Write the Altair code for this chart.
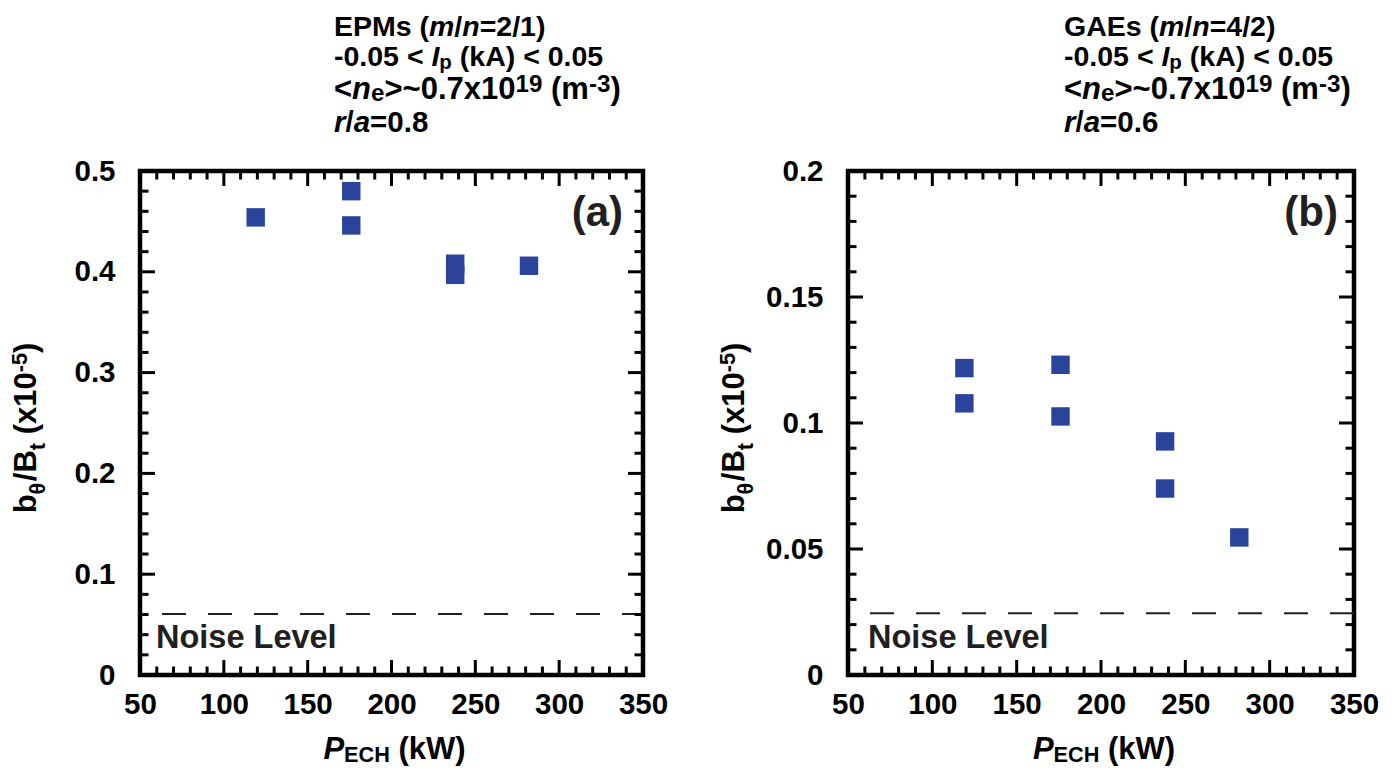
import altair as alt
import pandas as pd

# ---------------- data ----------------
P_ECH_A = [119, 176, 176, 238, 238, 282]
B_RATIO_A = [0.454, 0.480, 0.446, 0.408, 0.397, 0.406]
P_ECH_B = [119, 119, 176, 176, 238, 238, 282]
B_RATIO_B = [0.1218, 0.1078, 0.1231, 0.1026, 0.0927, 0.0740, 0.0546]
NOISE_A = 0.0605
NOISE_B = 0.0245

X_DOMAIN = [50, 350]
Y_DOMAIN_A = [0, 0.5]
Y_DOMAIN_B = [0, 0.2]
X_MAJOR = [50, 100, 150, 200, 250, 300, 350]
X_MINOR = [60, 70, 80, 90, 110, 120, 130, 140, 160, 170, 180, 190,
           210, 220, 230, 240, 260, 270, 280, 290, 310, 320, 330, 340]
Y_MAJOR_A = [0, 0.1, 0.2, 0.3, 0.4, 0.5]
Y_MINOR_A = [0.02, 0.04, 0.06, 0.08, 0.12, 0.14, 0.16, 0.18, 0.22, 0.24,
             0.26, 0.28, 0.32, 0.34, 0.36, 0.38, 0.42, 0.44, 0.46, 0.48]
Y_MAJOR_B = [0, 0.05, 0.1, 0.15, 0.2]
Y_MINOR_B = [0.01, 0.02, 0.03, 0.04, 0.06, 0.07, 0.08, 0.09,
             0.11, 0.12, 0.13, 0.14, 0.16, 0.17, 0.18, 0.19]

# text fragments: (text, kind, italic) ; kind n=normal, sub, sup
TITLE_A = [
    [("EPMs (", "n", False), ("m", "n", True), ("/", "n", False), ("n", "n", True), ("=2/1)", "n", False)],
    [("-0.05 < ", "n", False), ("I", "n", True), ("p", "sub", False), (" (kA) < 0.05", "n", False)],
    [("<", "n", False), ("n", "n", True), ("e", "sub", False), (">~0.7x10", "n", False), ("19", "sup", False),
     (" (m", "n", False), ("-3", "sup", False), (")", "n", False)],
    [("r", "n", True), ("/", "n", False), ("a", "n", True), ("=0.8", "n", False)],
]
TITLE_B = [
    [("GAEs (", "n", False), ("m", "n", True), ("/", "n", False), ("n", "n", True), ("=4/2)", "n", False)],
    [("-0.05 < ", "n", False), ("I", "n", True), ("p", "sub", False), (" (kA) < 0.05", "n", False)],
    [("<", "n", False), ("n", "n", True), ("e", "sub", False), (">~0.7x10", "n", False), ("19", "sup", False),
     (" (m", "n", False), ("-3", "sup", False), (")", "n", False)],
    [("r", "n", True), ("/", "n", False), ("a", "n", True), ("=0.6", "n", False)],
]
X_TITLE = [("P", "n", True), ("ECH", "sub", False), (" (kW)", "n", False)]
Y_TITLE = [("b", "n", False), ("θ", "sub", False), ("/B", "n", False), ("t", "sub", False),
           (" (x10", "n", False), ("-5", "sup", False), (")", "n", False)]
NOISE_TEXT = "Noise Level"
TAG_A = "(a)"
TAG_B = "(b)"

# ---------------- style ----------------
FONT = "Liberation Sans"
BLUE = "#2a449c"
INK = "#231f20"
ONE = pd.DataFrame({"k": [0]})

WID = {" ": 278, "(": 333, ")": 333, "-": 333, ".": 278, "/": 278, "<": 584, "=": 584,
       ">": 584, "~": 584, "x": 556, "A": 722, "B": 722, "C": 722, "E": 667, "G": 778,
       "H": 722, "I": 278, "M": 833, "P": 667, "W": 944, "a": 556, "b": 611, "e": 556,
       "k": 556, "m": 889, "n": 611, "p": 611, "r": 389, "s": 556, "t": 333, "θ": 611}


def tw(s, fs):
    return sum(WID.get(c, 556) for c in s) * fs / 1000.0


def rich(frags, x, y, fs, angle=0, center=False, color="black",
         ratio=0.72, sub=0.1, sup=-0.22):
    sizes = [fs if k == "n" else fs * ratio for _, k, _ in frags]
    widths = [tw(t, s) for (t, _, _), s in zip(frags, sizes)]
    off = -sum(widths) / 2 if center else 0.0
    out = []
    for (t, k, it), s, w in zip(frags, sizes, widths):
        dy = 0.0 if k == "n" else (sub * fs if k == "sub" else sup * fs)
        body = t.lstrip(" ")
        lead = tw(t[: len(t) - len(body)], s)  # leading spaces: advance only
        mk = dict(text=body, align="left", baseline="alphabetic", dx=round(off + lead, 2),
                  dy=round(dy, 2), fontSize=round(s, 2), fontWeight="bold", font=FONT, color=color)
        if it:
            mk["fontStyle"] = "italic"
        if angle:
            mk["angle"] = angle
        out.append(alt.Chart(ONE).mark_text(**mk).encode(x=alt.value(x), y=alt.value(y)))
        off += w
    return out


def panel(px, py, noise, ydom, ymaj, ymin, title, title_x, tag, tag_r, noise_x, W, H):
    xs = alt.Scale(domain=X_DOMAIN, nice=False, zero=False)
    ys = alt.Scale(domain=ydom, nice=False, zero=False)
    lab = dict(ticks=False, tickSize=0, domain=False, grid=False, title=None, labelFont=FONT,
               labelFontSize=29.5, labelFontWeight="bold", labelColor="black",
               labelFlush=False, labelOverlap=False)
    xaxis = alt.Axis(values=X_MAJOR, format="d", labelPadding=15, **lab)
    yaxis = alt.Axis(values=ymaj, format=".2~f", labelPadding=25, **lab)
    df = pd.DataFrame({"P": px, "b": py})
    layers = [alt.Chart(df).mark_square(size=340, color=BLUE, opacity=1).encode(
        x=alt.X("P:Q", scale=xs, axis=xaxis), y=alt.Y("b:Q", scale=ys, axis=yaxis))]
    layers.append(alt.Chart(pd.DataFrame({"v": [noise]})).mark_rule(
        color=INK, strokeWidth=2, strokeDash=[24, 22], strokeDashOffset=24).encode(
        y=alt.Y("v:Q", scale=ys, axis=yaxis), x=alt.value(0), x2=alt.value(W)))
    for vals, L in ((X_MAJOR, 15), (X_MINOR, 8.5)):
        d = pd.DataFrame({"v": vals})
        for y0, y1 in ((H, H - L), (0, L)):
            layers.append(alt.Chart(d).mark_rule(color="black", strokeWidth=3).encode(
                x=alt.X("v:Q", scale=xs, axis=xaxis), y=alt.value(y0), y2=alt.value(y1)))
    for vals, L in ((ymaj, 15), (ymin, 8.5)):
        d = pd.DataFrame({"v": vals})
        for x0, x1 in ((0, L), (W, W - L)):
            layers.append(alt.Chart(d).mark_rule(color="black", strokeWidth=3).encode(
                y=alt.Y("v:Q", scale=ys, axis=yaxis), x=alt.value(x0), x2=alt.value(x1)))
    # annotations
    layers.append(alt.Chart(ONE).mark_text(text=NOISE_TEXT, align="left", baseline="alphabetic",
                  font=FONT, fontSize=32.5, fontWeight="bold", color=INK).encode(
        x=alt.value(noise_x), y=alt.value(477)))
    layers.append(alt.Chart(ONE).mark_text(text=tag, align="right", baseline="alphabetic",
                  font=FONT, fontSize=42, fontWeight="bold", color=INK).encode(
        x=alt.value(W - tag_r), y=alt.value(55)))
    line_fs = (28.5, 28.5, 31, 29.5)
    line_ratio = (0.72, 0.72, 0.78, 0.72)
    line_sub = (0.1, 0.1, 0.08, 0.1)
    for frags, base, fs, rt, sb in zip(title, (-135, -105, -72, -39), line_fs, line_ratio, line_sub):
        layers += rich(frags, title_x, base, fs, ratio=rt, sub=sb)
    layers += rich(X_TITLE, W / 2 + 3, H + 84, 31, center=True, ratio=0.7, sub=0.1)
    layers += rich(Y_TITLE, -104, H / 2 + 5, 31, angle=270, center=True, ratio=0.7, sub=0.3, sup=-0.28)
    return alt.layer(*layers).properties(width=W, height=H)


pa = panel(P_ECH_A, B_RATIO_A, NOISE_A, Y_DOMAIN_A, Y_MAJOR_A, Y_MINOR_A, TITLE_A, 194,
           TAG_A, 20, 16, 503, 504)
pb = panel(P_ECH_B, B_RATIO_B, NOISE_B, Y_DOMAIN_B, Y_MAJOR_B, Y_MINOR_B, TITLE_B, 216,
           TAG_B, 16, 20, 506, 504)

chart = alt.hconcat(pa, pb, spacing=205, bounds="flush").configure_view(
    stroke="black", strokeWidth=4.5).properties(
    padding={"left": 0, "top": 2, "right": 5, "bottom": 5})

chart.save("out.html", embed_options={"renderer": "svg", "actions": False})
